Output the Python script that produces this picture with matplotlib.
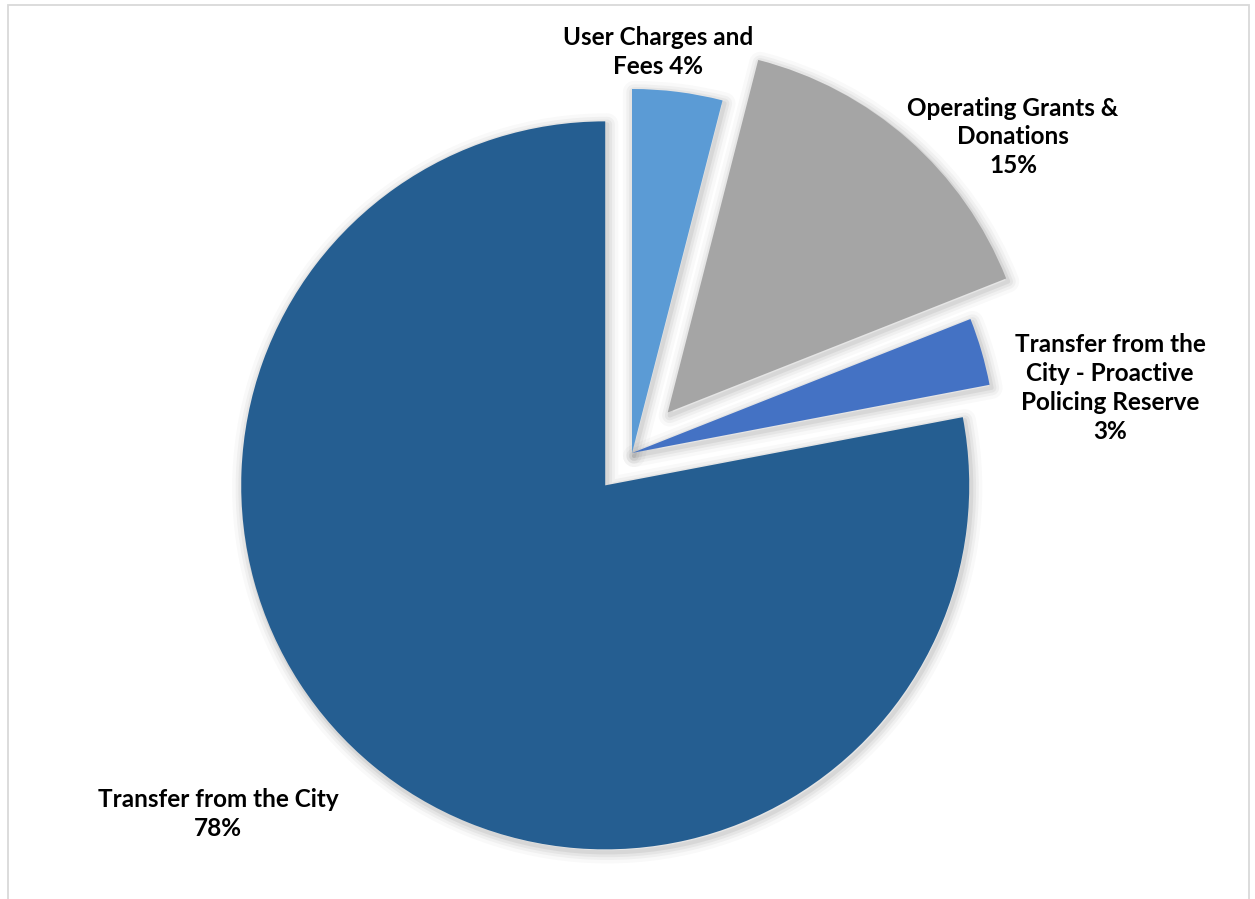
import numpy as np
import matplotlib
matplotlib.use('Agg')
import matplotlib.pyplot as plt
from matplotlib.patches import Wedge, Rectangle

# slice data, clockwise from 12 o'clock
labels = ['User Charges and\nFees 4%',
          'Operating Grants &\nDonations\n15%',
          'Transfer from the\nCity - Proactive\nPolicing Reserve\n3%',
          'Transfer from the City\n78%']
shares = [4, 15, 3, 78]
colors = ['#5B9BD5', '#A5A5A5', '#4472C4', '#255E91']
explode = [0, 54, 0, 42]   # pie explode is in data units here (pixels)

# label anchor points (pixels, y measured from bottom)
label_xy = [(658, 847), (1013, 762), (1110, 511), (218, 85)]

W, H = 1255, 899
fig = plt.figure(figsize=(W / 100, H / 100), dpi=100)
ax = fig.add_axes([0, 0, 1, 1])

wedges, _ = ax.pie(shares, colors=colors, startangle=90, counterclock=False,
                   explode=explode, radius=364, center=(632, 446),
                   wedgeprops=dict(linewidth=0, zorder=3))

# soft outer shadow, drawn underneath the slices
for w in wedges:
    for lw, a in [(16, 0.025), (11, 0.035), (7, 0.045), (3, 0.06)]:
        sh = Wedge((w.center[0] + 2, w.center[1] - 3), w.r, w.theta1, w.theta2,
                   facecolor='none', edgecolor=(0, 0, 0, a), linewidth=lw,
                   zorder=1, joinstyle='round')
        ax.add_patch(sh)

for txt, (x, y) in zip(labels, label_xy):
    ax.text(x, y, txt, ha='center', va='center', fontsize=17.5,
            fontweight='bold', family='Lato', linespacing=1.3, zorder=5)

# chart border
ax.add_patch(Rectangle((8, -10), 1241, 904, facecolor='none',
                       edgecolor='#D9D9D9', linewidth=1.3, zorder=6))

ax.set_xlim(0, W)
ax.set_ylim(0, H)
ax.set_aspect('equal')
ax.axis('off')

fig.savefig('out.png', dpi=100)
